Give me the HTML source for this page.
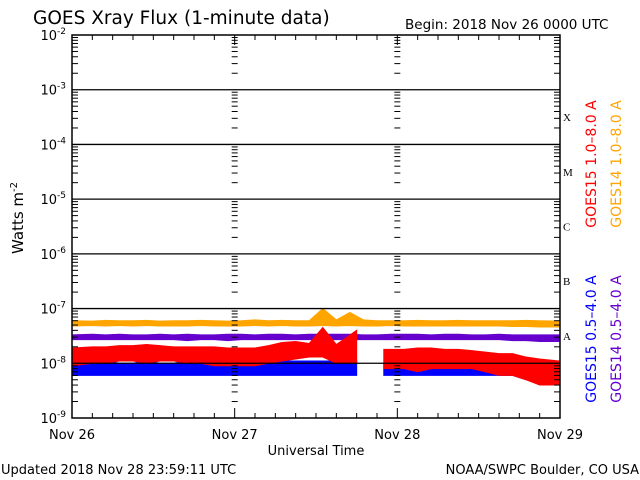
<!DOCTYPE html>
<html><head><meta charset="utf-8"><style>
body{margin:0;background:#fff;}
svg{display:block;font-family:"DejaVu Sans","Liberation Sans",sans-serif;}
</style></head><body>
<svg id="chart" width="640" height="480" xmlns="http://www.w3.org/2000/svg">
<rect width="640" height="480" fill="#fff"/>
<text x="33" y="24" font-size="18.5">GOES Xray Flux (1-minute data)</text>
<text x="405" y="29" font-size="13.5">Begin:  2018 Nov 26 0000 UTC</text>
<text transform="translate(23,218) rotate(-90)" text-anchor="middle" font-size="15">Watts m<tspan font-size="10" dy="-6">-2</tspan></text>
<text x="316" y="455" text-anchor="middle" font-size="13">Universal Time</text>
<text x="1" y="474" font-size="13">Updated 2018 Nov 28 23:59:11 UTC</text>
<text x="639" y="474" text-anchor="end" font-size="13">NOAA/SWPC Boulder, CO USA</text>
<g id="series"></g>
<g id="axes"></g>
<g font-size="14" text-anchor="middle">
<text transform="translate(596,164) rotate(-90)" fill="#ff0000">GOES15 1.0–8.0 A</text>
<text transform="translate(621,164) rotate(-90)" fill="#ffa500">GOES14 1.0–8.0 A</text>
<text transform="translate(596,339) rotate(-90)" fill="#0000ff">GOES15 0.5–4.0 A</text>
<text transform="translate(621,339) rotate(-90)" fill="#6600cc">GOES14 0.5–4.0 A</text>
</g>
</svg>
<script>
// values in units of 1e-9 W/m^2, 2-hour bins over Nov 26-29 (36 bins); null = no data
const bins = 36;
const orangeLo = [48,49,48,49,48,49,48,48,48,49,48,48,48,49,48,49,48,48,49,48,49,48,48,49,48,48,48,48,48,48,48,48,47,47,46,46];
const orangeHi = [60,59,61,60,60,61,59,60,60,61,60,59,60,62,60,61,60,60,100,62,85,62,60,60,60,61,60,60,61,60,60,60,60,61,60,59];
const purpleLo = [27,27,27,27,27,27,27,27,26,27,27,26,27,27,27,27,27,27,27,27,27,27,27,27,27,27,27,27,27,27,27,27,26,26,25,25];
const purpleHi = [33,34,33,34,33,33,34,33,34,33,33,34,34,33,34,34,33,34,34,34,34,33,33,34,34,34,33,34,34,33,33,34,33,33,33,33];
const redLo = [9,10,10,11,11,10,11,11,10,10,9,9,9,9,10,11,12,13,13,10,10,null,null,8,8,7,8,8,8,8,7,6,6,5,4,4];
const redHi = [19,20,20,21,21,22,21,20,20,20,20,19,19,19,21,24,25,23,45,22,40,null,null,18,18,19,19,18,18,17,16,15,15,13,12,11];
const blueLo = [6,6,6,6,6,6,6,6,6,6,6,6,6,6,6,6,6,6,6,6,6,null,null,6,6,6,6,6,6,6,6,6,6,5,5,5];
const blueHi = [10,10,11,10,10,11,10,10,11,10,10,10,10,10,11,11,11,11,11,11,11,null,null,10,10,11,11,11,11,11,10,10,10,10,10,10];
const decades = [-9,-8,-7,-6,-5,-4,-3,-2];
const dayLabels = ["Nov 26","Nov 27","Nov 28","Nov 29"];
const classLabels = ["A","B","C","M","X"];

const X0=72,X1=560,Y0=418,Y1=35;
const NS="http://www.w3.org/2000/svg";
function xScale(d){return X0+(X1-X0)*d/3;}
function yScale(v){return Y0-(Math.log10(v)+9)*(Y0-Y1)/7;}
function mk(tag,attrs,parent){const e=document.createElementNS(NS,tag);for(const k in attrs)e.setAttribute(k,attrs[k]);parent.appendChild(e);return e;}
const sg=document.getElementById('series'), ag=document.getElementById('axes');

function band(lo,hi,color,name){
  let seg=[];
  const flush=()=>{ if(!seg.length)return;
    const n=seg.length;
    const xs=seg.map((i,k)=>k==0?xScale(i*3/bins):(k==n-1?xScale((i+1)*3/bins):xScale((i+0.5)*3/bins)));
    let pts=seg.map((i,k)=>[xs[k],yScale(hi[i]*1e-9)]);
    let pb=seg.map((i,k)=>[xs[k],yScale(lo[i]*1e-9)]);
    pts=pts.concat(pb.reverse());
    const p=mk('polygon',{points:pts.map(p=>p.join(',')).join(' '),fill:color,stroke:color,'stroke-width':1},sg);
    
    
    seg=[];};
  for(let i=0;i<bins;i++){ if(lo[i]==null){flush();} else seg.push(i);}
  flush();
}
band(orangeLo,orangeHi,'#ffa500','goes14-long-series');
band(purpleLo,purpleHi,'#6600cc','goes14-short-series');
band(blueLo,blueHi,'#0000ff','goes15-short-series');
band(redLo,redHi,'#ff0000','goes15-long-series');

const fr=mk('rect',{x:X0,y:Y1,width:X1-X0,height:Y0-Y1,fill:'none',stroke:'#000','stroke-width':1.5},ag);


decades.forEach((d,i)=>{
  const y=yScale(Math.pow(10,d));
  if(d>-9&&d<-2){const g=mk('line',{x1:X0,x2:X1,y1:y,y2:y,stroke:'#000','stroke-width':1.3},ag);
    
    }
  const t=mk('text',{x:X0-6,y:y+5,'text-anchor':'end','font-size':13},ag);
  
  
  t.textContent='10';
  const s=mk('tspan',{dy:-6,'font-size':9},t); s.textContent=String(d);
  if(d<-2){for(let m=2;m<=9;m++){const ym=yScale(m*Math.pow(10,d));
    [[X0,X0+6],[X1-6,X1],[xScale(1)-3,xScale(1)+3],[xScale(2)-3,xScale(2)+3]].forEach(([a,b])=>{
      const l=mk('line',{x1:a,x2:b,y1:ym,y2:ym,stroke:'#000','stroke-width':1},ag);
      
      });}}
});
for(let h=0;h<=24;h++){const x=xScale(h/8);const len=(h%8==0)?10:5;
  [[Y0,Y0-len],[Y1,Y1+len]].forEach(([a,b])=>{const l=mk('line',{x1:x,x2:x,y1:a,y2:b,stroke:'#000','stroke-width':1},ag);
    
    });}
dayLabels.forEach((s,i)=>{const t=mk('text',{x:xScale(i),y:439,'text-anchor':'middle','font-size':13},ag);
  
  
  t.textContent=s;});
classLabels.forEach((s,i)=>{const t=mk('text',{x:X1+3,y:yScale(Math.pow(10,-7.5+i))+4,'font-size':11,'font-family':'Liberation Serif,serif'},ag);
  
  
  t.textContent=s;});
</script>
</body></html>
